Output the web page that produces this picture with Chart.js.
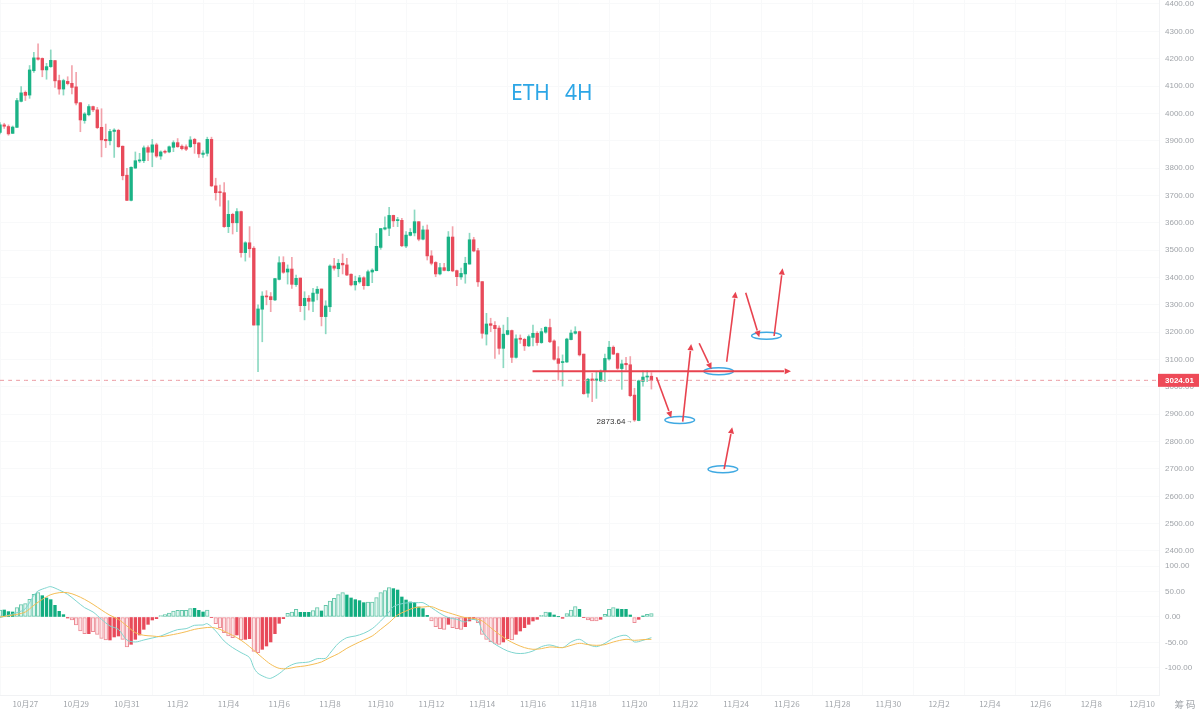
<!DOCTYPE html>
<html>
<head>
<meta charset="utf-8">
<title>ETH 4H</title>
<style>
  html, body { margin: 0; padding: 0; background: #fff; }
  canvas { display: block; }
</style>
<script src="https://cdn.jsdelivr.net/npm/chart.js@4"></script>
</head>
<body>
<canvas id="chart" width="1200" height="718"></canvas>
<script>
// ─── Candles (4H) ─────────────────────────────────────────────────────────────

const opens = [
  3930, 3958, 3952, 3927, 3949, 4044, 4077, 4067, 4156, 4203,
  4201, 4159, 4171, 4193, 4120, 4089, 4117, 4110, 4097, 4039,
  3974, 3995, 4025, 4013, 3949, 3905, 3900, 3934, 3938, 3880,
  3774, 3682, 3800, 3826, 3827, 3875, 3858, 3885, 3844, 3861,
  3859, 3876, 3893, 3880, 3878, 3878, 3905, 3892, 3850, 3854,
  3905, 3735, 3713, 3710, 3586, 3631, 3600, 3641, 3491, 3527,
  3507, 3226, 3284, 3332, 3330, 3318, 3393, 3455, 3420, 3431,
  3374, 3398, 3297, 3324, 3313, 3342, 3358, 3257, 3293, 3442,
  3432, 3452, 3446, 3412, 3373, 3384, 3399, 3370, 3420, 3425,
  3510, 3577, 3580, 3627, 3608, 3609, 3515, 3554, 3563, 3604,
  3540, 3574, 3479, 3455, 3413, 3436, 3425, 3548, 3425, 3402,
  3413, 3449, 3538, 3498, 3385, 3193, 3231, 3225, 3215, 3141,
  3192, 3206, 3108, 3178, 3174, 3150, 3181, 3196, 3162, 3200,
  3217, 3168, 3103, 3089, 3091, 3173, 3196, 3202, 3120, 2977,
  3029, 3024, 3022, 3056, 3102, 3145, 3122, 3067, 3086, 3081,
  2970, 2877, 3020, 3036, 3039
];
const highs = [
  3966, 3964, 3958, 3954, 4055, 4098, 4082, 4175, 4223, 4254,
  4203, 4183, 4232, 4194, 4140, 4125, 4134, 4175, 4150, 4040,
  4003, 4032, 4027, 4022, 4017, 3961, 3942, 3944, 3942, 3881,
  3799, 3805, 3859, 3854, 3881, 3881, 3905, 3891, 3863, 3866,
  3881, 3900, 3908, 3885, 3885, 3915, 3909, 3893, 3864, 3913,
  3913, 3763, 3738, 3747, 3681, 3635, 3652, 3643, 3531, 3586,
  3513, 3300, 3348, 3352, 3345, 3397, 3476, 3476, 3446, 3474,
  3409, 3398, 3348, 3334, 3360, 3367, 3358, 3315, 3446, 3470,
  3466, 3486, 3470, 3413, 3405, 3408, 3403, 3427, 3432, 3561,
  3579, 3622, 3657, 3628, 3620, 3616, 3568, 3579, 3647, 3604,
  3588, 3592, 3498, 3458, 3452, 3452, 3568, 3586, 3427, 3434,
  3474, 3562, 3547, 3507, 3385, 3269, 3251, 3239, 3223, 3226,
  3254, 3208, 3190, 3190, 3178, 3190, 3226, 3202, 3214, 3220,
  3248, 3172, 3147, 3117, 3178, 3208, 3220, 3204, 3120, 3031,
  3050, 3055, 3062, 3120, 3167, 3150, 3124, 3098, 3108, 3111,
  2995, 3025, 3059, 3059, 3052
];
const lows = [
  3925, 3945, 3920, 3926, 3948, 4042, 4047, 4055, 4150, 4195,
  4134, 4125, 4168, 4095, 4070, 4067, 4104, 4071, 4031, 3933,
  3964, 3991, 4006, 3944, 3841, 3875, 3885, 3839, 3876, 3757,
  3681, 3680, 3799, 3820, 3820, 3827, 3805, 3839, 3832, 3854,
  3856, 3860, 3876, 3866, 3864, 3875, 3854, 3839, 3839, 3844,
  3732, 3683, 3661, 3583, 3564, 3559, 3568, 3474, 3460, 3474,
  3226, 3056, 3165, 3300, 3275, 3315, 3391, 3415, 3376, 3360,
  3367, 3275, 3245, 3281, 3275, 3318, 3223, 3194, 3275, 3427,
  3403, 3413, 3407, 3369, 3354, 3379, 3357, 3369, 3381, 3424,
  3503, 3574, 3553, 3586, 3586, 3513, 3509, 3552, 3552, 3534,
  3537, 3464, 3446, 3403, 3409, 3424, 3423, 3421, 3370, 3393,
  3379, 3449, 3494, 3367, 3178, 3153, 3202, 3104, 3120, 3070,
  3190, 3089, 3105, 3159, 3133, 3147, 3150, 3152, 3159, 3196,
  3162, 3098, 3025, 3003, 3089, 3172, 3193, 3113, 2973, 2962,
  2946, 2958, 3019, 3019, 3098, 3118, 3064, 2991, 3062, 2964,
  2873.64, 2876, 3003, 3019, 2992
];
const closes = [
  3958, 3953, 3925, 3950, 4047, 4075, 4066, 4159, 4203, 4198,
  4159, 4171, 4194, 4119, 4089, 4120, 4109, 4095, 4038, 3976,
  3998, 4025, 4013, 3948, 3903, 3900, 3934, 3939, 3878, 3772,
  3682, 3803, 3827, 3830, 3874, 3858, 3885, 3844, 3859, 3858,
  3878, 3893, 3878, 3871, 3869, 3903, 3889, 3852, 3855, 3905,
  3735, 3710, 3710, 3586, 3631, 3600, 3641, 3491, 3527, 3505,
  3226, 3285, 3332, 3329, 3319, 3396, 3454, 3419, 3431, 3375,
  3397, 3297, 3324, 3313, 3343, 3357, 3257, 3296, 3442, 3434,
  3452, 3446, 3409, 3373, 3386, 3399, 3370, 3421, 3427, 3514,
  3579, 3582, 3627, 3607, 3611, 3516, 3555, 3565, 3604, 3540,
  3574, 3479, 3452, 3413, 3436, 3426, 3548, 3424, 3403, 3415,
  3452, 3538, 3497, 3384, 3196, 3230, 3225, 3213, 3141, 3193,
  3206, 3108, 3176, 3174, 3150, 3184, 3196, 3162, 3202, 3218,
  3165, 3101, 3086, 3092, 3175, 3197, 3202, 3117, 2975, 3028,
  3023, 3029, 3057, 3104, 3145, 3120, 3068, 3084, 3081, 2968,
  2879, 3022, 3036, 3039, 3024.01
];

// ─── MACD ─────────────────────────────────────────────────────────────────────

const macdHist = [
  13.7, 13.7, 10.5, 9.8, 18.3, 24.2, 26.1, 34.6, 44.4, 47.7,
  41.8, 37.3, 34, 22.9, 11.1, 4.6, -2, -5.9, -15.7, -27.5,
  -32.7, -32.7, -28.8, -34, -41.8, -45.1, -45.1, -39.2, -37.3, -43.8,
  -58.8, -53.6, -43.8, -35.3, -24.2, -14.4, -5.9, -3.3, 2.6, 4.6,
  7.8, 11.8, 13.1, 13.1, 13.1, 16.3, 17, 13.1, 9.8, 13.7,
  -1.3, -13.1, -20.9, -30.7, -37.3, -40.5, -35.3, -45.1, -43.8, -42.5,
  -67.3, -69.9, -63.4, -56.9, -49, -32.7, -12.4, -3.3, 7.2, 9.8,
  15, 9.2, 9.2, 9.2, 12.4, 18.3, 11.8, 22.9, 31.4, 36.6,
  43.8, 47.7, 43.1, 37.3, 34, 32, 28.1, 29.4, 29.4, 37.9,
  47.7, 51.6, 57.5, 55.6, 52.9, 39.2, 33.3, 29.4, 28.8, 19.6,
  16.3, 3.3, -7.8, -19, -22.9, -24.2, -14.4, -20.9, -22.9, -24.2,
  -19, -7.8, -4.6, -11.1, -34, -43.8, -48.4, -51.6, -53.6, -49,
  -42.5, -45.1, -34, -27.5, -20.9, -14.4, -7.8, -4.6, 3.3, 9.8,
  8.5, 3.9, 0.5, -2.6, 6.5, 13.7, 20.3, 15, -1.3, -5.9,
  -7.8, -7.8, -4.6, 5.2, 15, 18.3, 15.7, 15, 15, 3.9,
  -11.1, -4.6, 2, 5.2, 6.5
];
const hollowBars = [
  0, 4, 5, 6, 7, 8, 9, 17, 18, 19, 20, 22, 23, 24, 25, 29, 30, 38, 39, 40,
  41, 42, 43, 44, 45, 49, 51, 52, 53, 54, 55, 57, 60, 61, 68, 69, 70, 74, 75, 77,
  78, 79, 80, 81, 87, 88, 89, 90, 91, 92, 102, 103, 104, 105, 107, 108, 109, 113, 114, 115,
  116, 117, 118, 121, 128, 129, 134, 135, 136, 139, 140, 141, 143, 144, 145, 150, 153, 154
];
const difSlots = [
  0, 4, 6, 8, 9, 11, 12, 14, 16, 18, 20, 22, 24, 26, 28, 30, 32, 34, 36, 38,
  40, 42, 44, 46, 48, 49, 51, 53, 55, 57, 59, 60, 61, 63, 64, 66, 68, 70, 73, 75,
  77, 78, 80, 82, 84, 86, 88, 90, 92, 93, 95, 97, 99, 100, 102, 104, 106, 108, 110, 111,
  113, 114, 116, 118, 120, 122, 124, 126, 128, 130, 133, 135, 137, 139, 141, 143, 145, 148, 150, 152, 154
];
const difValues = [
  -1.3, 8.5, 16.3, 42.5, 51, 57.5, 59.5, 52.9, 44.4, 31.4, 18.3, 9.8, -4.6, -17.6, -24.2, -45.1, -49, -45.1, -41.2, -37.3,
  -30.7, -24.8, -22.9, -16.3, -15.7, -13.1, -27.5, -47.1, -60.1, -69.9, -79.7, -99.3, -110.5, -119, -120.3, -111.1, -98, -90.8, -88.2, -81.7,
  -81, -71.2, -51.6, -40.5, -37.3, -32, -22.9, -7.8, 9.8, 20.3, 26.1, 28.1, 28.1, 28.1, 18.3, 7.2, -1.3, -4.6, -9.8, -4.6,
  -7.8, -27.5, -47.1, -58.2, -66.7, -71.2, -71.2, -66.7, -58.2, -54.9, -60.1, -49, -43.8, -53.6, -58.2, -51.6, -41.8, -35.9, -49, -45.8, -40.5
];
const deaSlots = [
  0, 4, 6, 8, 10, 12, 14, 16, 18, 20, 22, 24, 26, 28, 30, 32, 34, 36, 38, 40,
  42, 44, 46, 48, 50, 52, 54, 56, 58, 60, 62, 64, 66, 68, 70, 72, 74, 76, 78, 80,
  82, 84, 86, 88, 90, 92, 94, 96, 98, 100, 102, 104, 106, 108, 110, 112, 114, 116, 118, 120,
  122, 124, 126, 128, 130, 133, 135, 137, 139, 141, 143, 145, 148, 150, 152, 154
];
const deaValues = [
  0, 5.2, 9.8, 22.9, 34.6, 43.8, 47.7, 47.7, 42.5, 34.6, 24.8, 13.7, 3.3, -4.6, -17.6, -30.7, -35.9, -37.3, -38.6, -35.9,
  -32.7, -28.8, -24.2, -21.6, -20.3, -24.2, -32, -40.5, -51.6, -65.4, -79.7, -92.8, -100.7, -101.3, -98, -96.1, -92.8, -88.2, -79.7, -71.9,
  -61.4, -52.9, -45.1, -37.3, -24.2, -11.1, 3.9, 11.8, 18.3, 19.6, 20.3, 13.7, 8.5, 3.3, -1.3, -2.6, -7.8, -20.9, -34, -45.1,
  -53.6, -60.1, -63.4, -62.1, -58.8, -60.1, -55.6, -51.6, -54.2, -55.6, -54.2, -49, -43.8, -45.8, -44.4, -43.8
];

// ─── Axes labels ──────────────────────────────────────────────────────────────

const dateLabels = [
  "10月27", "10月29", "10月31", "11月2", "11月4", "11月6", "11月8", "11月10",
  "11月12", "11月14", "11月16", "11月18", "11月20", "11月22", "11月24", "11月26",
  "11月28", "11月30", "12月2", "12月4", "12月6", "12月8", "12月10"
];
const priceTicks = [
  2400, 2500, 2600, 2700, 2800, 2900, 3000, 3100, 3200, 3300, 3400,
  3500, 3600, 3700, 3800, 3900, 4000, 4100, 4200, 4300, 4400
];
const macdTicks = [-100, -50, 0, 50, 100];
const lastPrice = 3024.01;
const lowestPrice = 2873.64;

// ─── Hand-drawn marks, in [slot, price] ───────────────────────────────────────

const arrowStarts = [[125.9, 3057], [155.2, 3035], [161.4, 2873], [165.3, 3159.5], [171.8, 3092], [176.3, 3344.5], [183, 3186], [171.2, 2699]];
const arrowEnds = [[187, 3057], [158.7, 2887.5], [163.4, 3157], [168.2, 3064.5], [173.9, 3348], [179.5, 3181.5], [185, 3433.7], [173.1, 2852.5]];
const circleCenters = [[160.7, 2879], [169.9, 3057], [181.2, 3187], [170.9, 2699]];

const SLOT_COUNT = 275;
const FIRST_TICK_SLOT = 6;
const SLOTS_PER_TICK = 12;

const UP = "#1bb386";
const DOWN = "#e84a5a";
const UP_WICK = "rgba(27,179,134,0.5)";
const DOWN_WICK = "rgba(232,74,90,0.5)";
const GRID = "#f8f9fa";
const EDGE = "#f1f2f4";
const LABEL = "#a0a4a9";
const FONT = "'Liberation Sans', Roboto, sans-serif";
const CJK = "'Noto Sans CJK SC', sans-serif";

const slotLabels = Array.from({ length: SLOT_COUNT }, (_, i) => String(i));

// line series only have readings at some slots, spanGaps joins them
function onSlots(slots, values) {
    const out = new Array(closes.length).fill(null);
    slots.forEach((s, i) => { out[s] = values[i]; });
    return out;
}

// tick labels may not push the panes inwards, the chart runs edge to edge
function noLabelPadding(axis) {
    axis.paddingTop = 0;
    axis.paddingBottom = 0;
    axis.paddingLeft = 0;
    axis.paddingRight = 0;
}

const isUp = closes.map((c, i) => c >= opens[i]);
const isHollow = macdHist.map((_, i) => hollowBars.includes(i));

// ─── Overlay: ellipses, arrows, title, price tags ─────────────────────────────

const overlay = {
    id: "overlay",
    afterDatasetsDraw(chart) {
        const { ctx, scales, chartArea } = chart;
        const x = scales.x, y = scales.y;
        const px = (p) => [x.getPixelForValue(p[0]), y.getPixelForValue(p[1])];

        ctx.save();
        ctx.beginPath();
        ctx.rect(0, 0, chartArea.right, chartArea.bottom);
        ctx.clip();

        // ellipses
        ctx.strokeStyle = "#3fa9e2";
        ctx.lineWidth = 1.5;
        circleCenters.forEach((c) => {
            const [cx, cy] = px(c);
            const rx = x.getPixelForValue(c[0] + 3.5) - cx;
            const ry = y.getPixelForValue(c[1] - 13) - cy;
            ctx.beginPath();
            ctx.ellipse(cx, cy, rx, ry, 0, 0, Math.PI * 2);
            ctx.stroke();
        });

        // arrows
        ctx.strokeStyle = "#e8434f";
        ctx.fillStyle = "#e8434f";
        arrowStarts.forEach((from, i) => {
            const [x0, y0] = px(from);
            const [x1, y1] = px(arrowEnds[i]);
            const a = Math.atan2(y1 - y0, x1 - x0);
            const head = 7;
            ctx.lineWidth = i === 0 ? 2 : 1.6;
            ctx.beginPath();
            ctx.moveTo(x0, y0);
            ctx.lineTo(x1 - Math.cos(a) * head, y1 - Math.sin(a) * head);
            ctx.stroke();
            ctx.beginPath();
            ctx.moveTo(x1, y1);
            ctx.lineTo(x1 - Math.cos(a - 0.45) * head, y1 - Math.sin(a - 0.45) * head);
            ctx.lineTo(x1 - Math.cos(a + 0.45) * head, y1 - Math.sin(a + 0.45) * head);
            ctx.closePath();
            ctx.fill();
        });
        ctx.restore();

        // title
        ctx.save();
        ctx.textBaseline = "middle";
        ctx.fillStyle = "#2ca6e6";
        ctx.font = "21px 'Noto Sans', sans-serif";
        ctx.textAlign = "left";
        ctx.fillText("ETH", 511, 94);
        ctx.fillText("4H", 565, 94);

        // lowest candle note
        const noteX = x.getPixelForValue(150);
        const noteY = y.getPixelForValue(lowestPrice);
        ctx.fillStyle = "#333";
        ctx.font = "8px " + FONT;
        ctx.textAlign = "right";
        ctx.fillText(lowestPrice.toFixed(2), noteX - 9, noteY);
        ctx.font = "6px " + FONT;
        ctx.textAlign = "left";
        ctx.fillText("→", noteX - 8, noteY);

        // last price tag
        const tagY = y.getPixelForValue(lastPrice);
        ctx.fillStyle = "#ee4a58";
        ctx.fillRect(chartArea.right - 1, tagY - 6.5, 41, 13);
        ctx.fillStyle = "#fff";
        ctx.textAlign = "left";
        ctx.font = "bold 8px " + FONT;
        ctx.fillText(lastPrice.toFixed(2), chartArea.right + 6, tagY + 0.5);

        // corner label
        ctx.fillStyle = LABEL;
        ctx.font = "9.5px " + CJK;
        ctx.textAlign = "center";
        ctx.fillText("筹 码", 1185, 704);
        ctx.restore();
    },
};

// ─── Chart ────────────────────────────────────────────────────────────────────

new Chart(document.getElementById("chart"), {
    type: "bar",
    plugins: [overlay],
    data: {
        labels: slotLabels,
        datasets: [
            {
                label: "Wick",
                yAxisID: "y",
                data: highs.map((h, i) => [lows[i], h]),
                backgroundColor: isUp.map((u) => (u ? UP_WICK : DOWN_WICK)),
                barThickness: 1,
                grouped: false,
                order: 7,
            },
            {
                label: "Body",
                yAxisID: "y",
                data: opens.map((o, i) => [o, closes[i]]),
                backgroundColor: isUp.map((u) => (u ? UP : DOWN)),
                barThickness: 2.7,
                minBarLength: 1,
                grouped: false,
                order: 6,
            },
            {
                label: "Last price",
                type: "line",
                yAxisID: "y",
                data: slotLabels.map(() => lastPrice),
                borderColor: "#eb9aa2",
                borderWidth: 1,
                borderDash: [4, 4],
                pointRadius: 0,
                order: 5,
            },
            {
                label: "MACD solid",
                yAxisID: "yMacd",
                data: macdHist.map((v, i) => (isHollow[i] ? null : v)),
                backgroundColor: macdHist.map((v) => (v >= 0 ? "#12ad80" : DOWN)),
                barThickness: 2.7,
                grouped: false,
                order: 4,
            },
            {
                label: "MACD hollow",
                yAxisID: "yMacd",
                data: macdHist.map((v, i) => (isHollow[i] ? v : null)),
                backgroundColor: macdHist.map((v) => (v >= 0 ? "#e3f6f0" : "#fde6e8")),
                borderColor: macdHist.map((v) => (v >= 0 ? "#62c6a9" : "#ec8a94")),
                borderWidth: 1,
                borderSkipped: false,
                barThickness: 3.6,
                grouped: false,
                order: 3,
            },
            {
                label: "DIF",
                type: "line",
                yAxisID: "yMacd",
                data: onSlots(difSlots, difValues),
                borderColor: "#7fd5cf",
                borderWidth: 1,
                pointRadius: 0,
                tension: 0.3,
                spanGaps: true,
                order: 2,
            },
            {
                label: "DEA",
                type: "line",
                yAxisID: "yMacd",
                data: onSlots(deaSlots, deaValues),
                borderColor: "#f4bd55",
                borderWidth: 1,
                pointRadius: 0,
                tension: 0.3,
                spanGaps: true,
                order: 1,
            },
        ],
    },
    options: {
        responsive: false,
        animation: false,
        devicePixelRatio: 1,
        layout: { padding: 0 },
        plugins: {
            legend: { display: false },
            tooltip: { enabled: false },
        },
        scales: {
            x: {
                type: "category",
                offset: false,
                grid: { color: GRID, drawTicks: false },
                border: { display: true, color: EDGE },
                afterBuildTicks(axis) {
                    axis.ticks = dateLabels.map((_, k) => ({ value: FIRST_TICK_SLOT + k * SLOTS_PER_TICK }));
                },
                afterFit(axis) { axis.height = 23; noLabelPadding(axis); },
                ticks: {
                    autoSkip: false,
                    maxRotation: 0,
                    padding: 4,
                    color: LABEL,
                    font: { size: 8, family: CJK },
                    callback: (_, k) => dateLabels[k],
                },
            },
            y: {
                type: "linear",
                position: "right",
                stack: "panes",
                stackWeight: 558,
                min: 2374.4,
                max: 4414.6,
                grid: { color: GRID, drawTicks: false },
                border: { display: true, color: EDGE },
                afterBuildTicks(axis) {
                    axis.ticks = priceTicks.map((v) => ({ value: v }));
                },
                afterFit(axis) { axis.width = 41; noLabelPadding(axis); },
                ticks: {
                    padding: 6,
                    color: LABEL,
                    font: { size: 8, family: FONT },
                    callback: (v) => v.toFixed(2),
                },
            },
            yMacd: {
                type: "linear",
                position: "right",
                stack: "panes",
                stackWeight: 137,
                min: -153,
                max: 115.7,
                grid: { color: GRID, drawTicks: false },
                border: { display: true, color: EDGE },
                afterBuildTicks(axis) {
                    axis.ticks = macdTicks.map((v) => ({ value: v }));
                },
                afterFit(axis) { axis.width = 41; noLabelPadding(axis); },
                ticks: {
                    padding: 6,
                    color: LABEL,
                    font: { size: 8, family: FONT },
                    callback: (v) => v.toFixed(2),
                },
            },
        },
    },
});
</script>
</body>
</html>
